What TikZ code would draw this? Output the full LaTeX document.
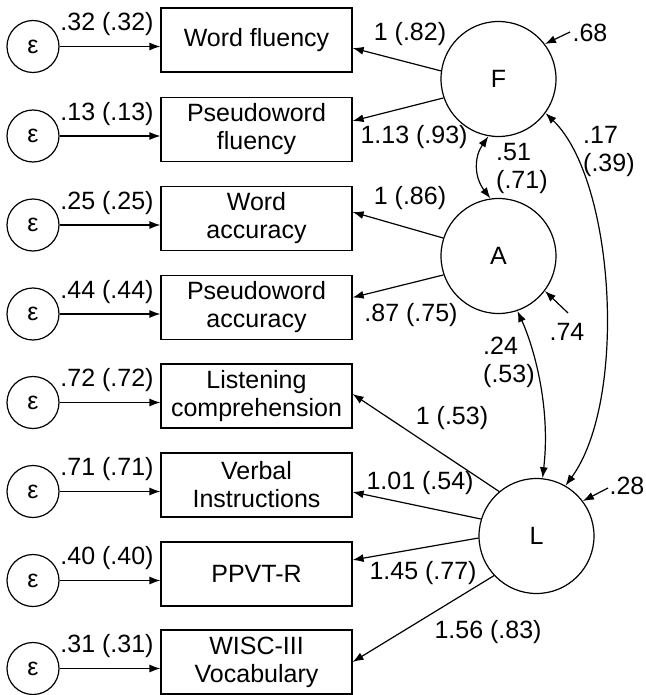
\documentclass[tikz,border=0pt]{standalone}
\usepackage{fontspec}
\setmainfont{Liberation Sans}
\usetikzlibrary{arrows.meta,calc}
\begin{document}
\begin{tikzpicture}[x=1pt,y=-1pt,
  every node/.style={font=\fontsize{25}{28}\selectfont, inner sep=0pt},
  obs/.style={draw, line width=1.2pt, minimum width=191pt, minimum height=64pt, align=center},
  lat/.style={draw, circle, line width=1.2pt, minimum size=115pt},
  err/.style={draw, circle, line width=1.2pt, minimum size=52pt},
  arr/.style={line width=1.2pt, -{Latex[length=11pt,width=8pt]}},
  darr/.style={line width=1.2pt, {Latex[length=11pt,width=8pt]}-{Latex[length=11pt,width=8pt]}},
  cov/.style={align=left, anchor=west}
]
\useasboundingbox (0,0) rectangle (645,695);

% observed variables
\node[obs] (b1) at (256.5,40) {Word fluency};
\node[obs] (b2) at (256.5,129.5) {Pseudoword\\fluency};
\node[obs] (b3) at (256.5,218.5) {Word\\accuracy};
\node[obs] (b4) at (256.5,307.5) {Pseudoword\\accuracy};
\node[obs] (b5) at (256.5,396) {Listening\\comprehension};
\node[obs] (b6) at (256.5,485) {Verbal\\Instructions};
\node[obs] (b7) at (256.5,574) {PPVT-R};
\node[obs] (b8) at (256.5,662) {WISC-III\\Vocabulary};

% error terms
\node[err] (e1) at (33,46.5) {ε};
\node[err] (e2) at (33,136) {ε};
\node[err] (e3) at (33,225) {ε};
\node[err] (e4) at (33,314) {ε};
\node[err] (e5) at (33,402.5) {ε};
\node[err] (e6) at (33,491.5) {ε};
\node[err] (e7) at (33,580.5) {ε};
\node[err] (e8) at (33,668.5) {ε};

\draw[arr] (e1.east) -- (e1.east -| b1.west);
\draw[arr] (e2.east) -- (e2.east -| b2.west);
\draw[arr] (e3.east) -- (e3.east -| b3.west);
\draw[arr] (e4.east) -- (e4.east -| b4.west);
\draw[arr] (e5.east) -- (e5.east -| b5.west);
\draw[arr] (e6.east) -- (e6.east -| b6.west);
\draw[arr] (e7.east) -- (e7.east -| b7.west);
\draw[arr] (e8.east) -- (e8.east -| b8.west);

\node (le1) at (107,24.5) {.32 (.32)};
\node (le2) at (107,114) {.13 (.13)};
\node (le3) at (107,203) {.25 (.25)};
\node (le4) at (107,292) {.44 (.44)};
\node (le5) at (107,380.5) {.72 (.72)};
\node (le6) at (107,469.5) {.71 (.71)};
\node (le7) at (107,558.5) {.40 (.40)};
\node (le8) at (107,646.5) {.31 (.31)};

% latent variables
\node[lat] (F) at (498.5,79) {F};
\node[lat] (A) at (498.5,256) {A};
\node[lat] (L) at (536.5,536) {L};

% loadings
\draw[arr] (F.172) -- ([yshift=-8pt]b1.east);
\draw[arr] (F.199) -- ([yshift=8.5pt]b2.east);
\draw[arr] (A.162) -- ([yshift=6.5pt]b3.east);
\draw[arr] (A.199) -- ([yshift=10pt]b4.east);
\draw[arr] (L.130) -- ([yshift=2pt]b5.east);
\draw[arr] (L.163) -- ([yshift=-7pt]b6.east);
\draw[arr] (L.182) -- ([yshift=14pt]b7.east);
\draw[arr] (L.223) -- (b8.east);

\node (l1) at (410,34) {1 (.82)};
\node (l2) at (414,137) {1.13 (.93)};
\node (l3) at (410,198) {1 (.86)};
\node (l4) at (411,315) {.87 (.75)};
\node (l5) at (452,418) {1 (.53)};
\node (l6) at (420,483) {1.01 (.54)};
\node (l7) at (423,573) {1.45 (.77)};
\node (l8) at (488,632) {1.56 (.83)};

% disturbances
\coordinate (vF) at (570,32);
\coordinate (vA) at (568,313);
\coordinate (vL) at (608,488);
\draw[arr] (vF) -- (F.37);
\draw[arr] (vA) -- (A.-37);
\draw[arr] (vL) -- (L.37);
\node (dF) at (590,33) {.68};
\node (dA) at (567,332) {.74};
\node (dL) at (627,486) {.28};

% covariances
\draw[darr] (F.260) .. controls (474,157) and (474,177) .. (A.98);
\draw[darr] (F.-36) .. controls (615,180) and (628,400) .. (L.60);
\draw[darr] (A.-71) .. controls (533,345) and (551,405) .. (L.84);

\node[cov] (cFA) at (496,168) {.51\\(.71)};
\node[cov] (cFL) at (583,151) {.17\\(.39)};
\node[cov] (cAL) at (483,362) {.24\\(.53)};
\end{tikzpicture}
\end{document}
